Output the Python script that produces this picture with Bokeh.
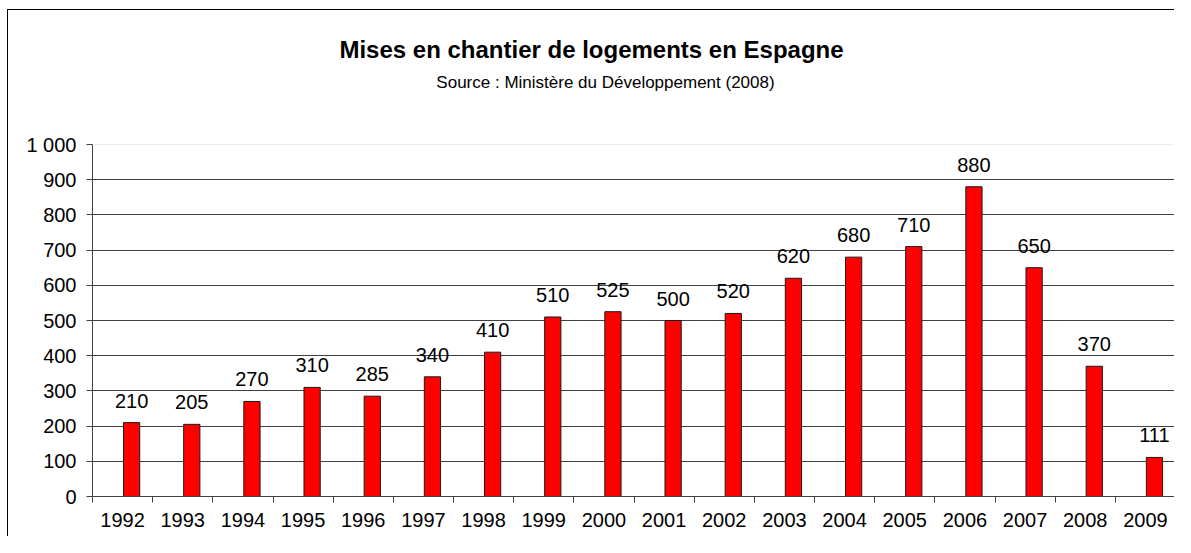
from bokeh.plotting import figure
from bokeh.models import (ColumnDataSource, Range1d, FixedTicker, LabelSet, Label, Grid)
from bokeh.transform import dodge
from bokeh.core.properties import value
from bokeh.embed import file_html
from bokeh.resources import INLINE

# ---- data ----
years = [1992, 1993, 1994, 1995, 1996, 1997, 1998, 1999, 2000,
         2001, 2002, 2003, 2004, 2005, 2006, 2007, 2008, 2009]
starts = [210, 205, 270, 310, 285, 340, 410, 510, 525,
          500, 520, 620, 680, 710, 880, 650, 370, 111]
y_ticks = [0, 100, 200, 300, 400, 500, 600, 700, 800, 900, 1000]
title_text = "Mises en chantier de logements en Espagne"
subtitle_text = "Source : Ministère du Développement (2008)"

n = len(years)
idx = list(range(n))
source = ColumnDataSource(dict(idx=idx, value=starts, label=[str(v) for v in starts]))

# layout (pixels)
W, H = 1167, 527
BL, BR, BT, BB = 84, 0, 0, 41
TOP_GAP = 134                     # px between frame top and the 1000 line
frame_h = H - BT - BB
px_per_unit = (frame_h - TOP_GAP) / 1000.0
y_max = frame_h / px_per_unit
frame_w = W - BL - BR
x_per_px = n / frame_w

p = figure(width=W, height=H, output_backend="svg", toolbar_location=None,
           x_range=Range1d(-0.5, n - 0.5), y_range=Range1d(0, y_max),
           min_border_left=BL, min_border_right=BR, min_border_top=BT, min_border_bottom=BB)
p.styles = {"margin-left": "7px", "margin-top": "9px",
            "border-left": "1px solid #000000", "border-top": "1px solid #000000"}
p.outline_line_color = None
p.background_fill_color = "white"
p.border_fill_color = "white"

AX = "#404040"
FONT = "Liberation Sans"
NUM_SIZE = "20px"

# y axis
p.yaxis.ticker = FixedTicker(ticks=y_ticks)
p.yaxis.bounds = (0, 1000)
p.yaxis.major_label_overrides = {1000: "1 000"}
p.yaxis.axis_line_color = AX
p.yaxis.major_tick_line_color = AX
p.yaxis.major_tick_out = 6
p.yaxis.major_tick_in = 0
p.yaxis.minor_tick_line_color = None
p.yaxis.major_label_standoff = 10
p.yaxis.major_label_text_font = FONT
p.yaxis.major_label_text_font_size = NUM_SIZE
p.yaxis.major_label_text_color = "#000000"

# x axis
p.xaxis.ticker = FixedTicker(ticks=idx, minor_ticks=[i - 0.5 for i in range(n + 1)])
p.xaxis.major_label_overrides = {i: str(y) for i, y in zip(idx, years)}
p.xaxis.axis_line_color = AX
p.xaxis.major_tick_line_color = None
p.xaxis.major_tick_out = 0
p.xaxis.major_tick_in = 0
p.xaxis.minor_tick_line_color = AX
p.xaxis.minor_tick_out = 6
p.xaxis.minor_tick_in = 0
p.xaxis.major_label_standoff = 10
p.xaxis.major_label_text_font = FONT
p.xaxis.major_label_text_font_size = NUM_SIZE
p.xaxis.major_label_text_color = "#000000"

# grids
p.xgrid.grid_line_color = None
p.ygrid.ticker = FixedTicker(ticks=y_ticks[1:-1])
p.ygrid.grid_line_color = AX
p.add_layout(Grid(dimension=1, ticker=FixedTicker(ticks=y_ticks[-1:]), grid_line_color="#eeeeee"))

# bars
p.vbar(x=dodge("idx", 0.15), top="value", bottom=0, width=0.27, source=source,
       fill_color="#FF0000", line_color="#1a1a1a", line_width=1)

labels = LabelSet(x=dodge("idx", 0.15), y="value", text="label", source=source,
                  text_align="center", text_baseline="alphabetic", y_offset=15,
                  text_font=value(FONT), text_font_size=NUM_SIZE, text_color="#000000")
p.add_layout(labels)

# titles (positioned in pixels above the frame bottom, converted to data units)
frame_bottom_page = 10 + H - BB
p.add_layout(Label(x=-0.5 + (591 - 92) * x_per_px, y=(frame_bottom_page - 49) / px_per_unit,
                   text=title_text, text_align="center", text_baseline="alphabetic",
                   text_font=FONT, text_font_style="bold",
                   text_font_size="24px", text_color="#000000"))
p.add_layout(Label(x=-0.5 + (605 - 92) * x_per_px, y=(frame_bottom_page - 82) / px_per_unit,
                   text=subtitle_text, text_align="center", text_baseline="alphabetic",
                   text_font=FONT,
                   text_font_size="17px", text_color="#000000"))

open("out.html", "w").write(file_html(p, INLINE))
